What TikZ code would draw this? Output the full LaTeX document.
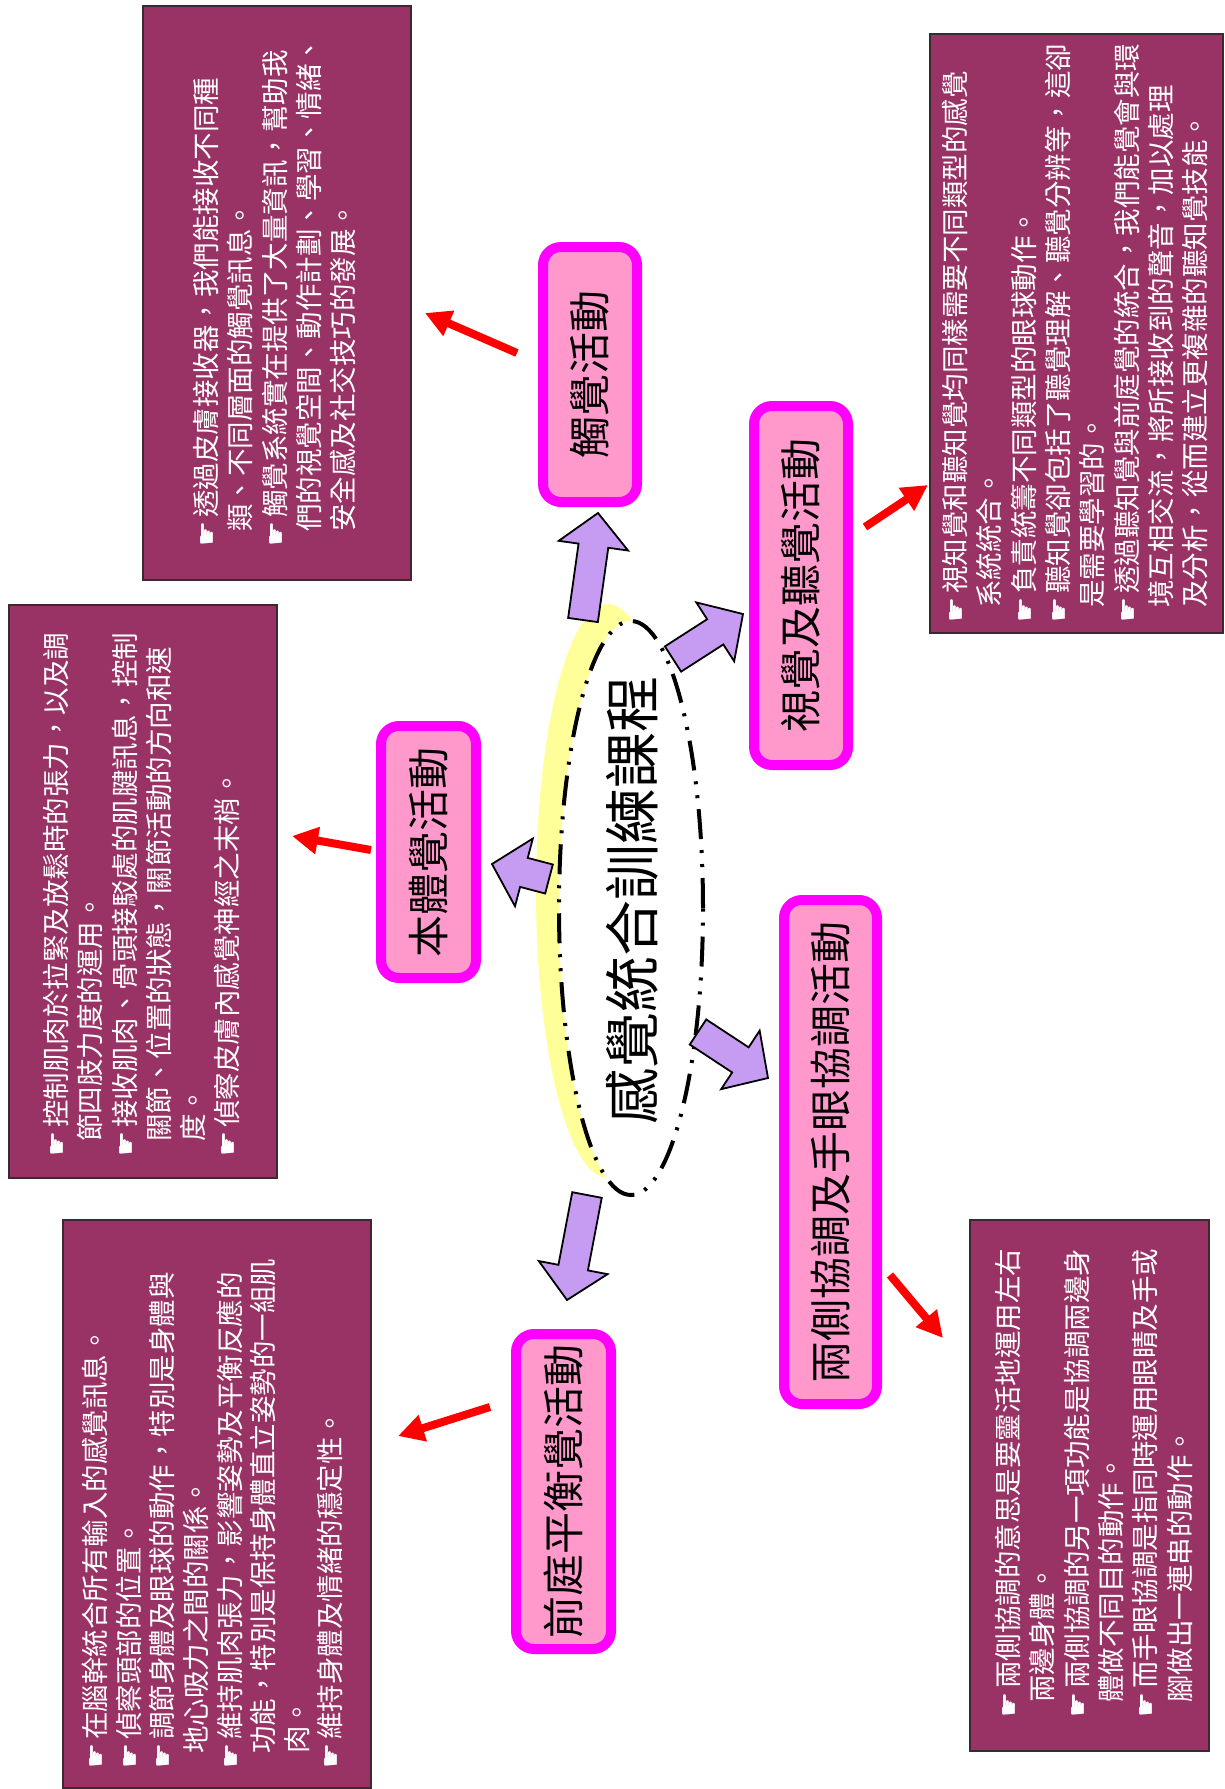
\documentclass[tikz,border=0pt]{standalone}
\usepackage{fontspec}
\usepackage{graphicx}
\newfontfamily\cjk{Noto Sans CJK TC}
\newfontfamily\symfont{DejaVu Sans}
\usetikzlibrary{shapes.geometric,arrows.meta,calc}

\definecolor{boxfill}{HTML}{993366}
\definecolor{boxrim}{HTML}{3A2A30}
\definecolor{pinkfill}{HTML}{FF99CC}
\definecolor{pinkrim}{HTML}{FF00FF}
\definecolor{lavender}{HTML}{C69CF2}
\definecolor{glow}{HTML}{FFFF99}
\definecolor{arrowred}{HTML}{FF0000}

% bullet hand and continuation indent for the note texts
\newcommand{\pointer}{\makebox[29pt][l]{\symfont\fontsize{28}{28}\selectfont ☛}}
\newcommand{\indentline}{\hspace*{15pt}}

% wide purple block arrow from #1 (tail) to #2 (tip)
\newcommand{\fatarrow}[2]{%
  \coordinate (hb) at ($(#2)!33pt!(#1)$);
  \draw[fatarrowstyle] ($(#1)!15pt!90:(#2)$) -- ($(hb)!15pt!90:(#2)$)
    -- ($(hb)!35pt!90:(#2)$) -- (#2) -- ($(hb)!35pt!-90:(#2)$)
    -- ($(hb)!15pt!-90:(#2)$) -- ($(#1)!15pt!-90:(#2)$) -- cycle;}

\tikzset{
  infobox/.style={draw=boxrim, line width=1.6pt, fill=boxfill, inner sep=0pt, outer sep=0pt, anchor=north west},
  infotext/.style={rotate=90, anchor=north west, inner sep=0pt, align=left, text=white,
    font=\cjk\fontsize{27.5}{34.3}\selectfont},
  topic/.style={draw=pinkrim, line width=10pt, fill=pinkfill, rounded corners=18pt, inner sep=0pt,
    font=\cjk\fontsize{42}{42}\selectfont},
  fatarrowstyle/.style={draw=black, line width=1.8pt, fill=lavender, line join=miter},
  redarrow/.style={draw=arrowred, line width=8pt, -{Triangle[length=26pt,width=26pt]}},
}

\begin{document}
\begin{tikzpicture}[x=1pt,y=-1pt]
\fill[white] (0,0) rectangle (1224,1789);
\useasboundingbox (0,0) rectangle (1224,1789);

% note boxes
\node[infobox, minimum width=268pt, minimum height=574pt] (b1) at (143,6) {};
\node[infobox, minimum width=293pt, minimum height=599pt] (b2) at (930,34) {};
\node[infobox, minimum width=268pt, minimum height=573pt] (b3) at (9,605) {};
\node[infobox, minimum width=308pt, minimum height=568pt] (b4) at (63,1220) {};
\node[infobox, minimum width=239pt, minimum height=531pt] (b5) at (970,1220) {};

\node[infotext] (n1) at ($(b1.south west)+(50,-33)$) {%
\pointer 透過皮膚接收器，我們能接收不同種\\
\indentline 類、不同層面的觸覺訊息。\\
\pointer 觸覺系統實在提供了大量資訊，幫助我\\
\indentline 們的視覺空間、動作計劃、學習、情緒、\\
\indentline 安全感及社交技巧的發展。};

\node[infotext] (n2) at ($(b2.south west)+(12,-10)$) {%
\pointer 視知覺和聽知覺均同樣需要不同類型的感覺\\
\indentline 系統統合。\\
\pointer 負責統籌不同類型的眼球動作。\\
\pointer 聽知覺卻包括了聽覺理解、聽覺分辨等，這卻\\
\indentline 是需要學習的。\\
\pointer 透過聽知覺與前庭覺的統合，我們能覺會與環\\
\indentline 境互相交流，將所接收到的聲音，加以處理\\
\indentline 及分析，從而建立更複雜的聽知覺技能。};

\node[infotext] (n3) at ($(b3.south west)+(34,-21)$) {%
\pointer 控制肌肉於拉緊及放鬆時的張力，以及調\\
\indentline 節四肢力度的運用。\\
\pointer 接收肌肉、骨頭接駁處的肌腱訊息，控制\\
\indentline 關節、位置的狀態，關節活動的方向和速\\
\indentline 度。\\
\pointer 偵察皮膚內感覺神經之末梢。};

\node[infotext, font=\cjk\fontsize{27.5}{33.6}\selectfont] (n4) at ($(b4.south west)+(19,-19)$) {%
\pointer 在腦幹統合所有輸入的感覺訊息。\\
\pointer 偵察頭部的位置。\\
\pointer 調節身體及眼球的動作，特別是身體與\\
\indentline 地心吸力之間的關係。\\
\pointer 維持肌肉張力，影響姿勢及平衡反應的\\
\indentline 功能，特別是保持身體直立姿勢的一組肌\\
\indentline 肉。\\
\pointer 維持身體及情緒的穩定性。};

\node[infotext] (n5) at ($(b5.south west)+(25,-33)$) {%
\pointer 兩側協調的意思是要靈活地運用左右\\
\indentline 兩邊身體。\\
\pointer 兩側協調的另一項功能是協調兩邊身\\
\indentline 體做不同目的動作。\\
\pointer 而手眼協調是指同時運用眼睛及手或\\
\indentline 腳做出一連串的動作。};

% central theme
\fill[glow] (608,891) ellipse [x radius=72, y radius=287];
\node[ellipse, draw=black, fill=white, line width=4pt,
      dash pattern=on 30pt off 11pt on 3pt off 11pt on 3pt off 11pt,
      minimum width=144pt, minimum height=574pt, inner sep=0pt] (core) at (631,908) {};
\node[font=\cjk\fontsize{56}{56}\selectfont, inner sep=0pt] (coretext) at (632,900)
  {\rotatebox{90}{感覺統合訓練課程}};

% block arrows from the theme to the activities
\coordinate (a1s) at (583,620); \coordinate (a1t) at (598,513);
\coordinate (a2s) at (673,659); \coordinate (a2t) at (743,614);
\coordinate (a3s) at (549,879); \coordinate (a3t) at (492,864);
\coordinate (a4s) at (698,1032); \coordinate (a4t) at (768,1078);
\coordinate (a5s) at (587,1195); \coordinate (a5t) at (567,1300);
\fatarrow{a1s}{a1t}
\fatarrow{a2s}{a2t}
\fatarrow{a3s}{a3t}
\fatarrow{a4s}{a4t}
\fatarrow{a5s}{a5t}

% activities
\node[topic, minimum width=94pt, minimum height=255pt] (t1) at (590,374.5) {\rotatebox{90}{觸覺活動}};
\node[topic, minimum width=94pt, minimum height=359pt] (t2) at (801,585.5) {\rotatebox{90}{視覺及聽覺活動}};
\node[topic, minimum width=95pt, minimum height=252pt] (t3) at (428.5,852) {\rotatebox{90}{本體覺活動}};
\node[topic, minimum width=93pt, minimum height=504pt] (t4) at (830.5,1152) {\rotatebox{90}{兩側協調及手眼協調活動}};
\node[topic, minimum width=95pt, minimum height=315pt] (t5) at (563.5,1491.5) {\rotatebox{90}{前庭平衡覺活動}};

% red pointers from the activities to their notes
\coordinate (r1s) at (517,353); \coordinate (r1e) at (425,313);
\coordinate (r2s) at (865,527); \coordinate (r2e) at (928,485);
\coordinate (r3s) at (371,850); \coordinate (r3e) at (292,836);
\coordinate (r4s) at (890,1275); \coordinate (r4e) at (943,1338);
\coordinate (r5s) at (490,1407); \coordinate (r5e) at (398,1436);
\draw[redarrow] (r1s) -- (r1e);
\draw[redarrow] (r2s) -- (r2e);
\draw[redarrow] (r3s) -- (r3e);
\draw[redarrow] (r4s) -- (r4e);
\draw[redarrow] (r5s) -- (r5e);
\end{tikzpicture}
\end{document}
